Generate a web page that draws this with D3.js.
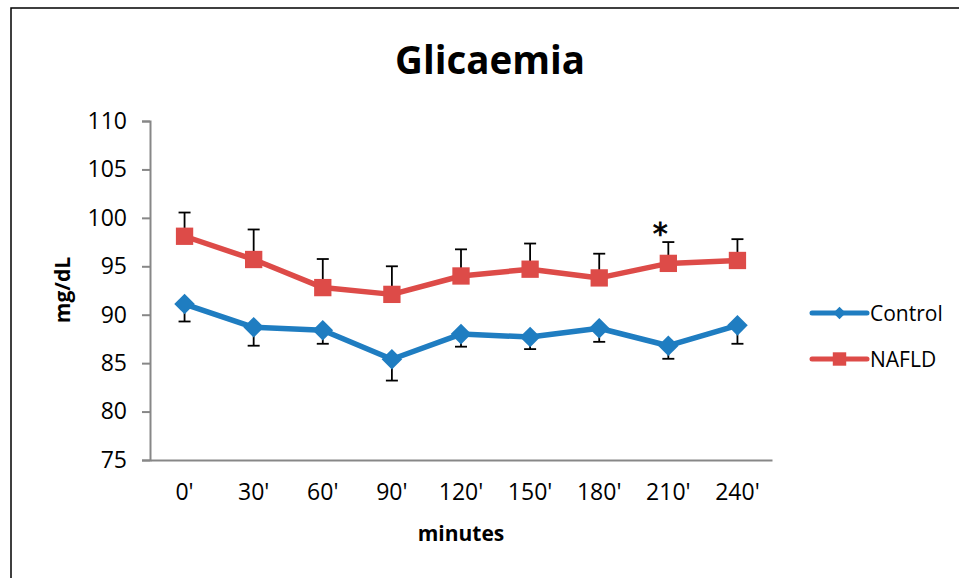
<!DOCTYPE html>
<html>
<head>
<meta charset="utf-8">
<script src="https://cdn.jsdelivr.net/npm/d3@7"></script>
<style>
  body { margin: 0; background: #fff; }
  svg { display: block; font-family: "Open Sans", sans-serif; }
</style>
</head>
<body>
<svg id="chart" width="959" height="578"></svg>
<script>
// data
var minutes = ["0'", "30'", "60'", "90'", "120'", "150'", "180'", "210'", "240'"];
var controlMean = [91.1, 88.7, 88.4, 85.4, 88.0, 87.7, 88.6, 86.8, 88.9];
var controlErr  = [1.8, 1.9, 1.4, 2.2, 1.3, 1.25, 1.4, 1.35, 1.9];
var naflMean    = [98.1, 95.7, 92.8, 92.1, 94.0, 94.7, 93.8, 95.3, 95.6];
var naflErr     = [2.45, 3.1, 2.95, 2.9, 2.75, 2.65, 2.5, 2.2, 2.2];
var yTicks = [75, 80, 85, 90, 95, 100, 105, 110];
var starAt = ["210'"];

var blue = "#1f7dc1", red = "#dd4b48", axisGrey = "#878787";

var svg = d3.select("#chart");
var margin = {left: 150, right: 187, top: 121, bottom: 118};
var width = 959 - margin.left - margin.right,
    height = 578 - margin.top - margin.bottom;

// chart frame (runs off the right and bottom edges)
svg.append("rect")
    .attr("x", 11).attr("y", 8)
    .attr("width", 1000).attr("height", 600)
    .attr("fill", "none").attr("stroke", "#000").attr("stroke-width", 1.5);

var x = d3.scaleBand().domain(minutes).range([0, width]);
var y = d3.scaleLinear().domain([75, 110]).range([height, 0]);

var g = svg.append("g")
    .attr("transform", "translate(" + margin.left + "," + margin.top + ")");

// y axis
var yAxis = g.append("g")
    .call(d3.axisLeft(y).tickValues(yTicks).tickSize(8).tickPadding(15));
yAxis.select(".domain").attr("stroke", axisGrey).attr("stroke-width", 2);
yAxis.selectAll(".tick line").attr("stroke", axisGrey).attr("stroke-width", 2);
yAxis.selectAll("text")
    .attr("font-size", 23).attr("fill", "#000")
    .attr("font-family", "Open Sans");

// x axis
var xAxis = g.append("g")
    .attr("transform", "translate(0," + height + ")")
    .call(d3.axisBottom(x).tickSize(0).tickSizeOuter(0).tickPadding(24));
xAxis.select(".domain").attr("stroke", axisGrey).attr("stroke-width", 2);
xAxis.selectAll("text")
    .attr("font-size", 23).attr("fill", "#000")
    .attr("font-family", "Open Sans");

var cx = function(d, i) { return x(minutes[i]) + x.bandwidth() / 2; };

// error bars: NAFLD upward, Control downward
function errorBars(mean, err, dir) {
  var eb = g.append("g").attr("stroke", "#000").attr("stroke-width", 1.8);
  mean.forEach(function(m, i) {
    var px = cx(m, i), y0 = y(m), y1 = y(m + dir * err[i]);
    eb.append("line").attr("x1", px).attr("x2", px).attr("y1", y0).attr("y2", y1);
    eb.append("line").attr("x1", px - 6).attr("x2", px + 6).attr("y1", y1).attr("y2", y1);
  });
}
errorBars(naflMean, naflErr, 1);
errorBars(controlMean, controlErr, -1);

var line = d3.line().x(cx).y(function(d) { return y(d); });

g.append("path").datum(controlMean)
    .attr("d", line).attr("fill", "none")
    .attr("stroke", blue).attr("stroke-width", 5.5).attr("stroke-linejoin", "round");
g.append("path").datum(naflMean)
    .attr("d", line).attr("fill", "none")
    .attr("stroke", red).attr("stroke-width", 5.5).attr("stroke-linejoin", "round");

var diamond = d3.symbol().type(d3.symbolDiamond2).size(270);
var square = d3.symbol().type(d3.symbolSquare).size(300);

g.selectAll(".ctl").data(controlMean).enter().append("path")
    .attr("class", "ctl")
    .attr("d", diamond)
    .attr("transform", function(d, i) { return "translate(" + cx(d, i) + "," + y(d) + ")"; })
    .attr("fill", blue);

g.selectAll(".naf").data(naflMean).enter().append("path")
    .attr("class", "naf")
    .attr("d", square)
    .attr("transform", function(d, i) { return "translate(" + cx(d, i) + "," + y(d) + ")"; })
    .attr("fill", red);

// significance star
starAt.forEach(function(k) {
  var i = minutes.indexOf(k);
  g.append("text")
      .attr("x", cx(0, i) - 8)
      .attr("y", y(naflMean[i] + naflErr[i]) + 2)
      .attr("text-anchor", "middle")
      .attr("font-size", 30).attr("font-family", "DejaVu Sans")
      .attr("stroke", "#000").attr("stroke-width", 0.8)
      .text("*");
});

// titles
svg.append("text")
    .attr("x", 490).attr("y", 74)
    .attr("text-anchor", "middle")
    .attr("font-size", 38.5).attr("font-weight", "bold")
    .text("Glicaemia");

svg.append("text")
    .attr("x", 461).attr("y", 541)
    .attr("text-anchor", "middle")
    .attr("font-size", 21).attr("font-weight", "bold")
    .text("minutes");

svg.append("text")
    .attr("transform", "translate(70,290) rotate(-90)")
    .attr("text-anchor", "middle")
    .attr("font-size", 21).attr("font-weight", "bold")
    .text("mg/dL");

// legend
var legend = svg.append("g").attr("transform", "translate(812,313)");
var items = [
  {name: "Control", color: blue, sym: d3.symbol().type(d3.symbolDiamond2).size(100)},
  {name: "NAFLD", color: red, sym: d3.symbol().type(d3.symbolSquare).size(180)}
];
items.forEach(function(it, i) {
  var row = legend.append("g").attr("transform", "translate(0," + i * 46 + ")");
  row.append("line").attr("x1", 0).attr("x2", 55)
      .attr("stroke", it.color).attr("stroke-width", 5).attr("stroke-linecap", "round");
  row.append("path").attr("d", it.sym).attr("transform", "translate(27.5,0)").attr("fill", it.color);
  row.append("text").attr("x", 58).attr("y", 7.5)
      .attr("font-size", 21).text(it.name);
});
</script>
</body>
</html>
